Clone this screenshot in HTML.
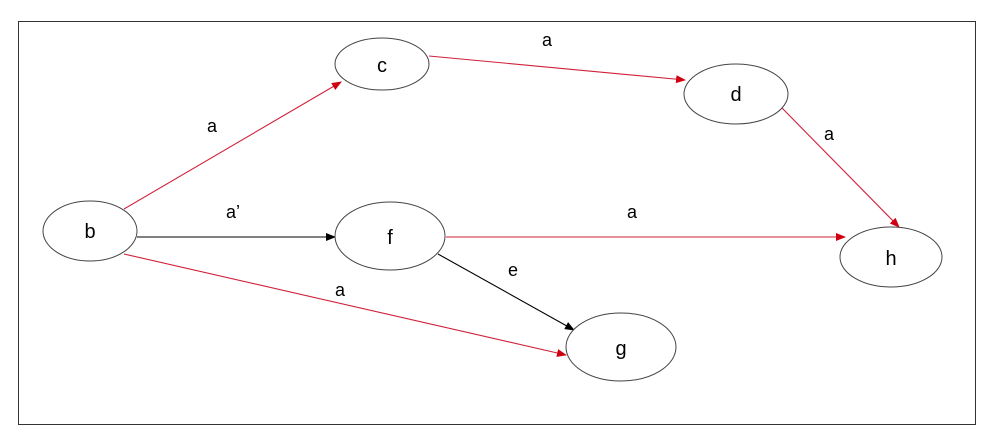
<!DOCTYPE html>
<html><head><style>body{margin:0;background:#fff}svg{display:block}text{font-family:"Liberation Sans",Arial,sans-serif;fill:#000}</style></head>
<body>
<svg width="993" height="445" viewBox="0 0 993 445" xmlns="http://www.w3.org/2000/svg">
<defs>
<marker id="r" markerWidth="10" markerHeight="8" refX="9" refY="4" orient="auto" markerUnits="userSpaceOnUse"><path d="M0,0 L10,4 L0,8 z" fill="#d00010"/></marker>
<marker id="k" markerWidth="10" markerHeight="8" refX="9" refY="4" orient="auto" markerUnits="userSpaceOnUse"><path d="M0,0 L10,4 L0,8 z" fill="#000"/></marker>
</defs>
<rect x="18.5" y="21.5" width="957" height="403" fill="none" stroke="#333" stroke-width="1"/>
<g fill="none" stroke-width="1.1">
<line x1="124" y1="209" x2="341" y2="82" stroke="#d0203a" marker-end="url(#r)"/>
<line x1="429" y1="56" x2="685" y2="80" stroke="#d0203a" marker-end="url(#r)"/>
<line x1="782" y1="108" x2="899" y2="227" stroke="#d0203a" marker-end="url(#r)"/>
<line x1="137" y1="237" x2="335" y2="237" stroke="#000" marker-end="url(#k)"/>
<line x1="446" y1="237" x2="845" y2="237" stroke="#d0203a" marker-end="url(#r)"/>
<line x1="438" y1="254" x2="574" y2="330" stroke="#000" marker-end="url(#k)"/>
<line x1="124" y1="254" x2="566" y2="355" stroke="#d0203a" marker-end="url(#r)"/>
</g>
<g fill="#fff" stroke="#444" stroke-width="1">
<ellipse cx="90" cy="231" rx="47" ry="30"/>
<ellipse cx="382" cy="64" rx="47" ry="26"/>
<ellipse cx="390" cy="236" rx="55" ry="34"/>
<ellipse cx="736" cy="94" rx="52" ry="30"/>
<ellipse cx="891" cy="257" rx="51" ry="30"/>
<ellipse cx="621" cy="347" rx="55" ry="34"/>
</g>
<g font-size="20" text-anchor="middle">
<text x="90" y="238">b</text>
<text x="382" y="72">c</text>
<text x="390" y="244">f</text>
<text x="736" y="101">d</text>
<text x="891" y="265">h</text>
<text x="621" y="355">g</text>
</g>
<g font-size="18" text-anchor="middle">
<text x="212" y="132">a</text>
<text x="233" y="218">a’</text>
<text x="340" y="296">a</text>
<text x="547" y="46">a</text>
<text x="829" y="140">a</text>
<text x="632" y="218">a</text>
<text x="513" y="276">e</text>
</g>
</svg>
</body></html>
